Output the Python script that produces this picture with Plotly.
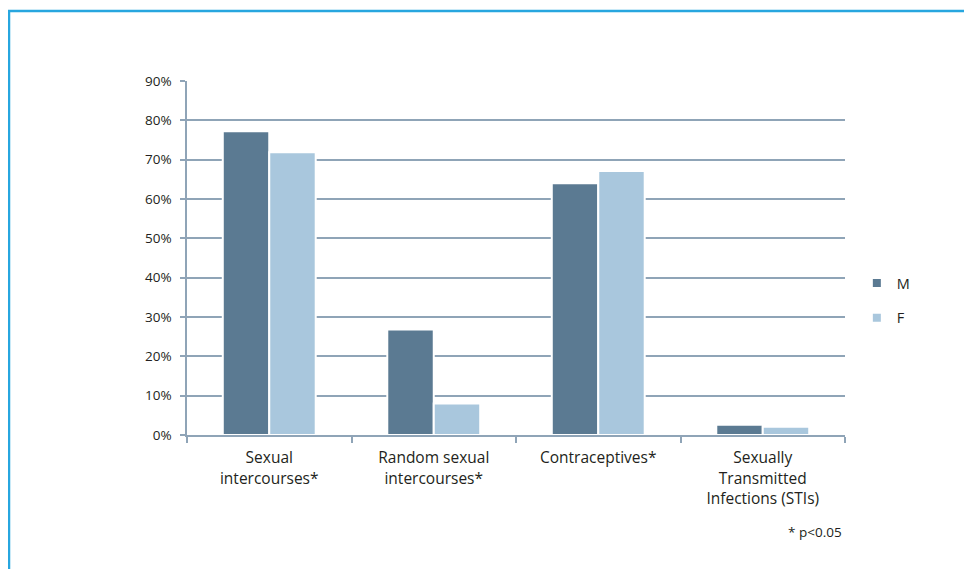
import plotly.graph_objects as go

categories = ["Sexual<br>intercourses*", "Random sexual<br>intercourses*",
              "Contraceptives*", "Sexually<br>Transmitted<br>Infections (STIs)"]
male = [0.772, 0.268, 0.640, 0.026]
female = [0.719, 0.080, 0.671, 0.021]
series_names = ["M", "F"]
y_ticks = [0, 0.1, 0.2, 0.3, 0.4, 0.5, 0.6, 0.7, 0.8, 0.9]
footnote = "* p<0.05"

c_m = "#5b7a92"
c_f = "#a9c7dd"
grid_c = "#8fa4b7"
font_fam = "'Open Sans', 'Noto Sans', sans-serif"
txt_c = "#231f20"

# page body has an 8px margin, so the figure is sized to fit the window
W, H = 964, 561
L, R, T, B = 179, 127, 73, 134
plot_h = H - T - B

fig = go.Figure()
fig.add_trace(go.Bar(x=categories, y=male, name=series_names[0],
                     marker=dict(color=c_m, line=dict(color="white", width=2)), showlegend=False))
fig.add_trace(go.Bar(x=categories, y=female, name=series_names[1],
                     marker=dict(color=c_f, line=dict(color="white", width=2)), showlegend=False))
# legend entries (small squares)
for nm, col in zip(series_names, [c_m, c_f]):
    fig.add_trace(go.Scatter(x=[None], y=[None], mode="markers", name=nm, legendgroup=nm,
                             marker=dict(symbol="square", size=8, color=col)))

fig.update_layout(
    width=W, height=H,
    margin=dict(l=L, r=R, t=T, b=B),
    paper_bgcolor="white", plot_bgcolor="white",
    barmode="group", bargap=0.435, bargroupgap=0,
    font=dict(family=font_fam, color=txt_c, size=14),
    showlegend=True,
    legend=dict(x=1.018, y=0.38, xanchor="left", yanchor="middle",
                font=dict(size=14.5, color=txt_c, family=font_fam), tracegroupgap=13,
                bgcolor="rgba(0,0,0,0)", itemwidth=30),
    xaxis=dict(type="category", showline=True, linecolor=grid_c, linewidth=1.5,
               ticks="outside", tickson="boundaries", ticklen=6, tickcolor=grid_c, tickwidth=1.5,
               tickfont=dict(size=15.5, color=txt_c), ticklabelstandoff=8, showgrid=False),
    yaxis=dict(range=[0, 0.9], tickvals=y_ticks, tickformat=".0%",
               showline=True, linecolor=grid_c, linewidth=1.5,
               ticks="outside", ticklen=5, tickcolor=grid_c, tickwidth=1.5,
               showgrid=True, gridcolor=grid_c, gridwidth=1.5,
               zeroline=False, tickfont=dict(size=13.5, color=txt_c), ticklabelstandoff=6),
    annotations=[dict(text=footnote, xref="paper", yref="paper", x=0.999, y=-0.274,
                      xanchor="right", yanchor="middle", showarrow=False,
                      font=dict(size=13.5, color=txt_c))],
    shapes=[dict(type="rect", xref="paper", yref="paper",
                 x0=(1 - L) / (W - L - R), x1=(W + 20 - L) / (W - L - R),
                 y0=-(B + 20) / plot_h, y1=(plot_h + T - 3) / plot_h,
                 line=dict(color="#27a6df", width=2.5), fillcolor="rgba(0,0,0,0)", layer="above")],
)

fig.write_html("out.html")
